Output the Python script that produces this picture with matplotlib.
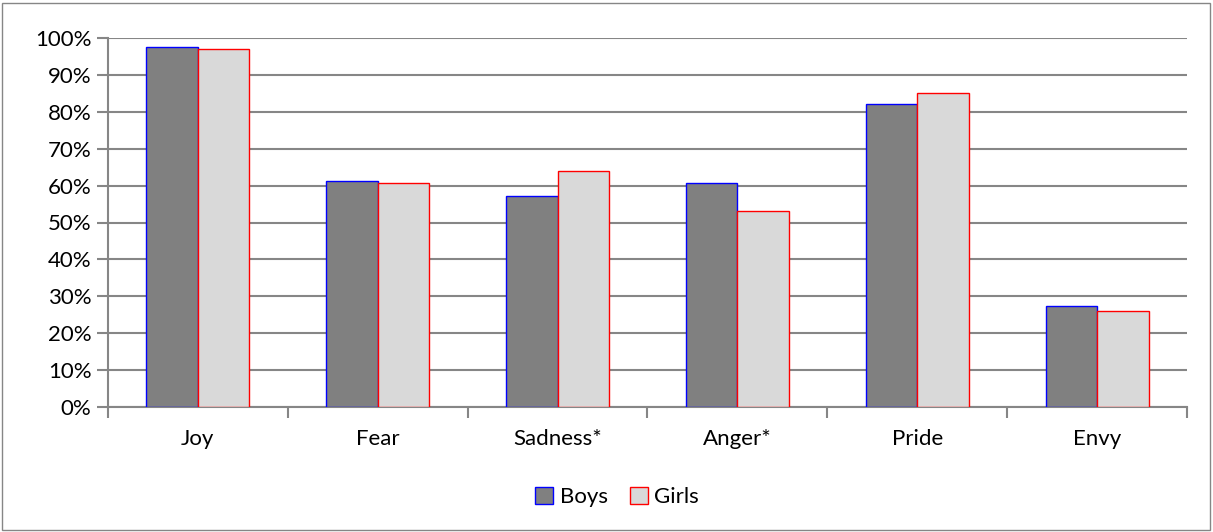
import numpy as np
import matplotlib.pyplot as plt
from matplotlib.patches import Rectangle
from matplotlib.ticker import FuncFormatter, MultipleLocator

categories = ["Joy", "Fear", "Sadness*", "Anger*", "Pride", "Envy"]
boys = [97.5, 61.3, 57.2, 60.8, 82.0, 27.5]
girls = [96.9, 60.8, 64.0, 53.1, 85.0, 26.0]

plt.rcParams["font.family"] = ["Lato", "DejaVu Sans"]
FS = 16

fig = plt.figure(figsize=(12.13, 5.32), dpi=100)
ax = fig.add_axes([108 / 1213, 1 - 407 / 532, (1187 - 108) / 1213, (407 - 38) / 532])

x = np.arange(len(categories))
w = 0.286
ax.bar(x - w / 2, boys, w, color="#808080", edgecolor="#0000ff", linewidth=1, label="Boys", zorder=3)
ax.bar(x + w / 2, girls, w, color="#d9d9d9", edgecolor="#ff0000", linewidth=1, label="Girls", zorder=3)

ax.set_xlim(-0.5, len(categories) - 0.5)
ax.set_ylim(0, 100)
ax.yaxis.set_major_locator(MultipleLocator(10))
ax.yaxis.set_major_formatter(FuncFormatter(lambda v, _: f"{v:.0f}%"))
ax.grid(axis="y", color="#868686", linewidth=1.5, zorder=0)

ax.set_xticks(x)
ax.set_xticklabels(categories)
ax.set_xticks(np.arange(-0.5, len(categories)), minor=True)
ax.tick_params(axis="x", which="major", length=0, labelsize=FS, pad=16)
ax.tick_params(axis="x", which="minor", length=8, color="#868686", width=1.5)
ax.tick_params(axis="y", length=8, color="#868686", width=1.5, labelsize=FS, pad=4)

for s in ["top", "right"]:
    ax.spines[s].set_visible(False)
for s in ["left", "bottom"]:
    ax.spines[s].set_color("#868686")
    ax.spines[s].set_linewidth(1.5)

fig.legend(loc="center", bbox_to_anchor=(617 / 1213, 1 - 497 / 532), ncol=2, frameon=False,
           fontsize=FS, handlelength=0.8, handleheight=0.8, handletextpad=0.3, columnspacing=1.0)

fig.patches.append(Rectangle((2 / 1213, 2 / 532), 1208 / 1213, 527 / 532, transform=fig.transFigure,
                             fill=False, edgecolor="#868686", linewidth=1))

fig.savefig("out.png", dpi=100)
